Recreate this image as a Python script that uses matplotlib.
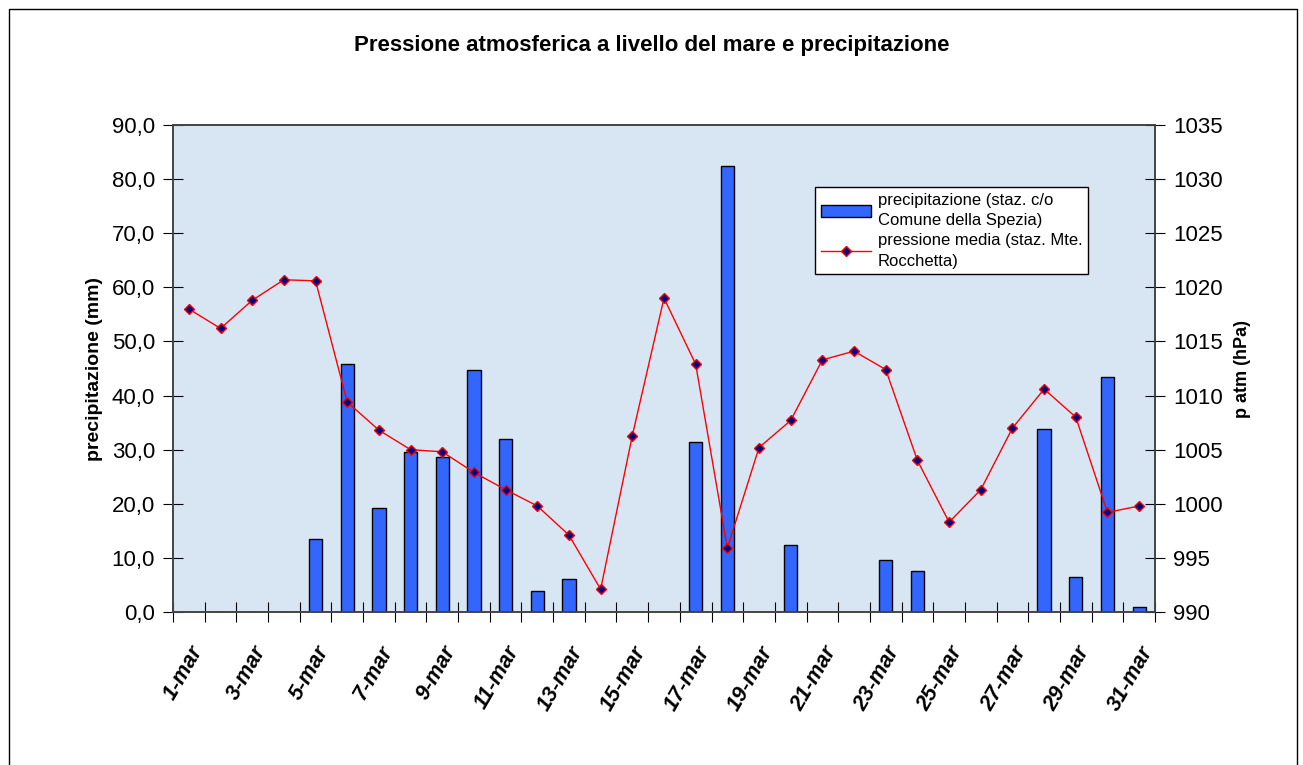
import matplotlib
matplotlib.use("Agg")
import matplotlib.pyplot as plt
from matplotlib.lines import Line2D
from matplotlib.ticker import FuncFormatter, MultipleLocator, FixedLocator
import numpy as np

plt.rcParams['font.family'] = ['Liberation Sans', 'DejaVu Sans']

days = list(range(1, 32))
day_labels = [f"{d}-mar" for d in days]

precip = [0, 0, 0, 0, 13.4, 45.8, 19.2, 29.6, 28.6, 44.8, 32.0, 3.8, 6.1, 0, 0, 0,
          31.5, 82.5, 0, 12.4, 0, 0, 9.7, 7.6, 0, 0, 0, 33.8, 6.4, 43.5, 0.9]
pressure = [1018.0, 1016.2, 1018.8, 1020.7, 1020.6, 1009.4, 1006.8, 1005.0, 1004.8,
            1002.9, 1001.3, 999.8, 997.1, 992.1, 1006.3, 1019.0, 1012.9, 995.9,
            1005.2, 1007.7, 1013.3, 1014.1, 1012.4, 1004.0, 998.3, 1001.3, 1007.0,
            1010.6, 1008.0, 999.2, 999.8]

W, H = 1303, 765
fig = plt.figure(figsize=(W / 100, H / 100), dpi=100)
ax = fig.add_axes([173 / W, 1 - 612 / H, (1155 - 173) / W, (612 - 125) / H])
ax.set_facecolor('#d8e6f4')

x = np.arange(len(days))
bars = ax.bar(x, precip, width=0.42, color='#3366ff', edgecolor='black', linewidth=1,
              label='precipitazione (staz. c/o\nComune della Spezia)', zorder=2)
ax.set_xlim(-0.5, len(days) - 0.5)
ax.set_ylim(0, 90)
ax.yaxis.set_major_locator(MultipleLocator(10))
ax.yaxis.set_major_formatter(FuncFormatter(lambda v, p: f"{v:.1f}".replace('.', ',')))
ax.set_ylabel('precipitazione (mm)', fontsize=14, fontweight='bold', labelpad=6)

ax2 = ax.twinx()
line, = ax2.plot(x, pressure, color='#ff0000', linewidth=1, marker='D', markersize=5,
                 markerfacecolor='#000080', markeredgecolor='#ff0000', markeredgewidth=1,
                 label='pressione media (staz. Mte.\nRocchetta)', zorder=3)
ax2.set_ylim(990, 1035)
ax2.yaxis.set_major_locator(MultipleLocator(5))
ax2.set_ylabel('p atm (hPa)', fontsize=13, fontweight='bold', labelpad=8)

# x ticks between categories, labels every other day
ax.xaxis.set_major_locator(FixedLocator(np.arange(-0.5, len(days), 1)))
ax.set_xticklabels([])
ax.set_xticks(x[::2], minor=True)
ax.set_xticklabels(day_labels[::2], minor=True, rotation=60, ha='right', va='top',
                   rotation_mode='anchor', fontsize=15.5, fontweight='bold', style='italic')
ax.tick_params(axis='x', which='minor', length=0, pad=22)
ax.tick_params(axis='x', which='major', direction='inout', length=14)
ax.tick_params(axis='y', direction='inout', length=14, labelsize=16, pad=6)
ax2.tick_params(axis='y', direction='inout', length=14, labelsize=16, pad=6)

for a in (ax, ax2):
    for s in a.spines.values():
        s.set_color('#444444')
        s.set_linewidth(1.2)

fig.text(0.5, 1 - 45 / H, 'Pressione atmosferica a livello del mare e precipitazione',
         ha='center', va='center', fontsize=16, fontweight='bold')

leg = fig.legend([bars, line], [bars.get_label(), line.get_label()],
                 loc='upper left', bbox_to_anchor=(815 / W, 1 - 187 / H),
                 fontsize=12, frameon=True, fancybox=False, edgecolor='black',
                 handlelength=3.0, labelspacing=0.3, borderpad=0.35, handletextpad=0.4,
                 borderaxespad=0)
for t in leg.get_texts():
    t.set_linespacing(1.45)
leg.get_frame().set_linewidth(1)
leg.get_frame().set_facecolor('white')
leg.get_frame().set_alpha(1)

# chart frame
fx = [9 / W, 9 / W, 1297 / W, 1297 / W]
fy = [-0.05, 1 - 9 / H, 1 - 9 / H, -0.05]
fig.add_artist(Line2D(fx, fy, color='black', linewidth=1, transform=fig.transFigure))

fig.savefig('out.png', dpi=100)
